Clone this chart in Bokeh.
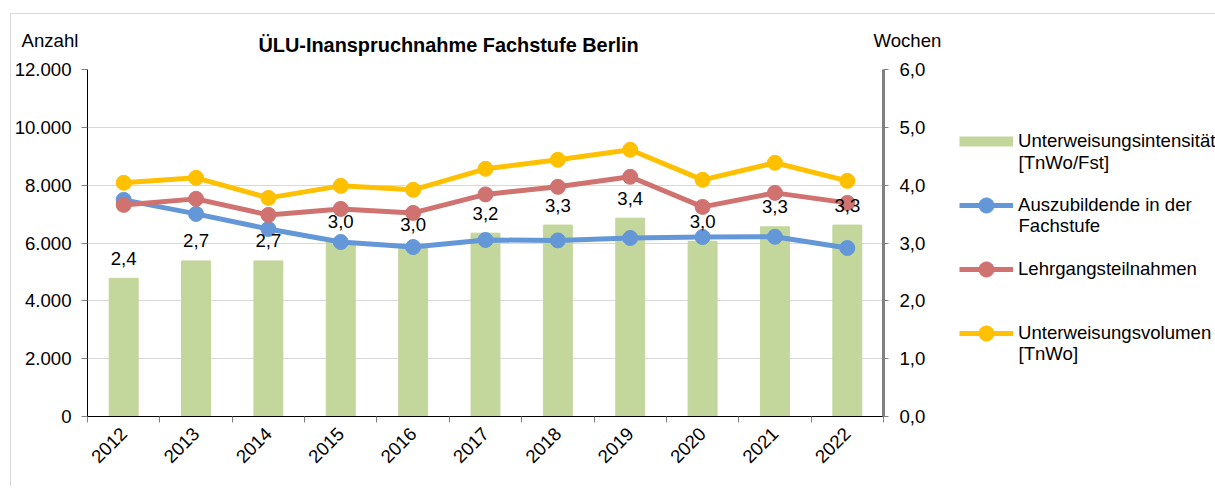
import numpy as np
from bokeh.plotting import figure
from bokeh.layouts import column, row
from bokeh.models import Range1d, LinearAxis, FixedTicker, Legend, LegendItem, Label
from bokeh.core.properties import value
from bokeh.embed import file_html
from bokeh.resources import INLINE

# ---------------- data ----------------
years = ["2012", "2013", "2014", "2015", "2016", "2017", "2018", "2019", "2020", "2021", "2022"]
intensitaet = [2.39, 2.69, 2.69, 3.02, 2.97, 3.17, 3.31, 3.43, 3.03, 3.28, 3.31]
intensitaet_labels = ["2,4", "2,7", "2,7", "3,0", "3,0", "3,2", "3,3", "3,4", "3,0", "3,3", "3,3"]
auszubildende = [7491, 7006, 6485, 6035, 5861, 6104, 6090, 6173, 6208, 6215, 5826]
lehrgang = [7318, 7526, 6971, 7179, 7040, 7680, 7942, 8289, 7248, 7734, 7387]
volumen = [8081, 8254, 7560, 7976, 7838, 8566, 8878, 9225, 8185, 8774, 8150]
left_ticks = [0, 2000, 4000, 6000, 8000, 10000, 12000]
left_tick_labels = ["0", "2.000", "4.000", "6.000", "8.000", "10.000", "12.000"]
right_ticks = [0, 1, 2, 3, 4, 5, 6]
right_tick_labels = ["0,0", "1,0", "2,0", "3,0", "4,0", "5,0", "6,0"]
series_names = ["Unterweisungsintensität", "Auszubildende in der", "Lehrgangsteilnahmen",
                "Unterweisungsvolumen"]
series_second_lines = ["[TnWo/Fst]", "Fachstufe", "", "[TnWo]"]

FONT = "Liberation Sans"
GREEN = "#C3D69B"
BLUE = "#6397D8"
RED = "#CF7270"
YELLOW = "#FFC000"
FS = "18.6px"

idx = list(range(len(years)))

# ---------------- layout sizes (page pixels) ----------------
ORIGIN_X, ORIGIN_Y = 11, 14
TOTAL_W = 1204
TOP_H = 46
MAIN_W, MAIN_H = 929, 426
LEG_W = TOTAL_W - MAIN_W
BORDER_TOP, BORDER_BOTTOM = 9, 70
FRAME_T = ORIGIN_Y + TOP_H + BORDER_TOP          # 69
FRAME_B = ORIGIN_Y + TOP_H + MAIN_H - BORDER_BOTTOM  # 416
LEG_X0 = ORIGIN_X + MAIN_W                        # 940

# ---------------- top strip (axis titles + chart title) ----------------
top = figure(width=TOTAL_W, height=TOP_H,
             x_range=Range1d(ORIGIN_X, ORIGIN_X + TOTAL_W),
             y_range=Range1d(ORIGIN_Y + TOP_H, ORIGIN_Y),
             output_backend="svg", toolbar_location=None, min_border=0)
top.axis.visible = False
top.grid.visible = False
top.outline_line_color = None
top.add_layout(Label(x=21, y=40, text="Anzahl", text_align="left", text_baseline="middle",
                     text_font=FONT, text_font_size=FS, text_color="black"))
top.add_layout(Label(x=448, y=44, text="ÜLU-Inanspruchnahme Fachstufe Berlin", text_align="center",
                     text_baseline="middle", text_font=FONT, text_font_style="bold",
                     text_font_size="19.9px", text_color="black"))
top.add_layout(Label(x=873, y=40, text="Wochen", text_align="left", text_baseline="middle",
                     text_font=FONT, text_font_size=FS, text_color="black"))

# ---------------- main chart ----------------
p = figure(width=MAIN_W, height=MAIN_H, x_range=Range1d(-0.5, len(years) - 0.5),
           y_range=Range1d(0, 12000), output_backend="svg", toolbar_location=None,
           min_border_left=76, min_border_top=BORDER_TOP, min_border_right=57,
           min_border_bottom=BORDER_BOTTOM)
p.outline_line_color = None
p.extra_y_ranges = {"w": Range1d(0, 6)}

xa = p.xaxis[0]
xa.ticker = FixedTicker(ticks=idx, minor_ticks=[i - 0.5 for i in range(len(years) + 1)])
xa.major_label_overrides = {i: y for i, y in enumerate(years)}
xa.major_tick_line_color = None
xa.minor_tick_line_color = "#808080"
xa.minor_tick_out = 6
xa.minor_tick_in = 0
xa.major_label_orientation = np.pi / 4
xa.major_label_standoff = 8
xa.axis_line_color = "black"
xa.major_label_text_font = FONT
xa.major_label_text_font_size = FS
xa.major_label_text_color = "black"

ya = p.yaxis[0]
ya.ticker = FixedTicker(ticks=left_ticks)
ya.major_label_overrides = {t: l for t, l in zip(left_ticks, left_tick_labels)}
ya.axis_line_color = "black"
ya.major_tick_line_color = "#808080"
ya.major_tick_out = 6
ya.major_tick_in = 0
ya.minor_tick_line_color = None
ya.major_label_standoff = 10
ya.major_label_text_font = FONT
ya.major_label_text_font_size = FS
ya.major_label_text_color = "black"

p.xgrid.grid_line_color = None
p.ygrid.grid_line_color = "#D9D9D9"

ra = LinearAxis(y_range_name="w", ticker=FixedTicker(ticks=right_ticks))
ra.major_label_overrides = {t: l for t, l in zip(right_ticks, right_tick_labels)}
ra.axis_line_color = "#808080"
ra.axis_line_width = 3
ra.major_tick_line_color = "#808080"
ra.major_tick_out = 5
ra.major_tick_in = 0
ra.minor_tick_line_color = None
ra.major_label_standoff = 11
ra.major_label_text_font = FONT
ra.major_label_text_font_size = FS
ra.major_label_text_color = "black"
p.add_layout(ra, "right")

p.vbar(x=idx, top=intensitaet, width=0.4, color=GREEN, y_range_name="w")
p.line(idx, auszubildende, line_width=5, color=BLUE)
p.scatter(idx, auszubildende, size=15, color=BLUE)
p.line(idx, lehrgang, line_width=5, color=RED)
p.scatter(idx, lehrgang, size=15, color=RED)
p.line(idx, volumen, line_width=5, color=YELLOW)
p.scatter(idx, volumen, size=15, color=YELLOW)

p.text(x=idx, y=intensitaet, text=intensitaet_labels, y_range_name="w", y_offset=-20,
       text_align="center", text_baseline="middle", text_font=value(FONT),
       text_font_size=FS, text_color="black")

# ---------------- legend panel (coordinates = page pixels) ----------------
lf = figure(width=LEG_W, height=MAIN_H, x_range=Range1d(LEG_X0, LEG_X0 + LEG_W),
            y_range=Range1d(FRAME_B, FRAME_T), output_backend="svg", toolbar_location=None,
            min_border_left=0, min_border_right=0, min_border_top=BORDER_TOP,
            min_border_bottom=BORDER_BOTTOM)
lf.axis.visible = False
lf.grid.visible = False
lf.outline_line_color = None

nan = [float("nan")]
g_bar = lf.line(x=nan, y=nan, line_width=10, color=GREEN)
g_b_l = lf.line(x=nan, y=nan, line_width=5, color=BLUE)
g_b_s = lf.scatter(x=nan, y=nan, size=15, color=BLUE)
g_r_l = lf.line(x=nan, y=nan, line_width=5, color=RED)
g_r_s = lf.scatter(x=nan, y=nan, size=15, color=RED)
g_y_l = lf.line(x=nan, y=nan, line_width=5, color=YELLOW)
g_y_s = lf.scatter(x=nan, y=nan, size=15, color=YELLOW)

LEG_TOP = 122
ITEM_H, ITEM_GAP, N_ITEMS = 38, 26, 4
leg_h = N_ITEMS * ITEM_H + (N_ITEMS - 1) * ITEM_GAP
leg = Legend(items=[LegendItem(label=series_names[0], renderers=[g_bar]),
                    LegendItem(label=series_names[1], renderers=[g_b_l, g_b_s]),
                    LegendItem(label=series_names[2], renderers=[g_r_l, g_r_s]),
                    LegendItem(label=series_names[3], renderers=[g_y_l, g_y_s])],
             location=(959 - LEG_X0, FRAME_B - (LEG_TOP + leg_h)),
             border_line_color=None, background_fill_alpha=0,
             padding=0, margin=0, spacing=ITEM_GAP, glyph_width=54, glyph_height=ITEM_H,
             label_height=21, label_standoff=5, label_text_font=FONT,
             label_text_font_size=FS, label_text_color="black")
lf.add_layout(leg)

for txt, yy in zip(series_second_lines, [162, 225, 289, 353]):
    if txt:
        lf.add_layout(Label(x=1018, y=yy, text=txt, text_align="left", text_baseline="middle",
                            text_font=FONT, text_font_size=FS, text_color="black"))

layout = column(top, row(p, lf, spacing=0), spacing=0)
layout.margin = (13, 0, 0, 10)
layout.styles = {"border-top": "1px solid #d9d9d9", "border-left": "1px solid #d9d9d9"}

open("out.html", "w").write(file_html(layout, INLINE))
